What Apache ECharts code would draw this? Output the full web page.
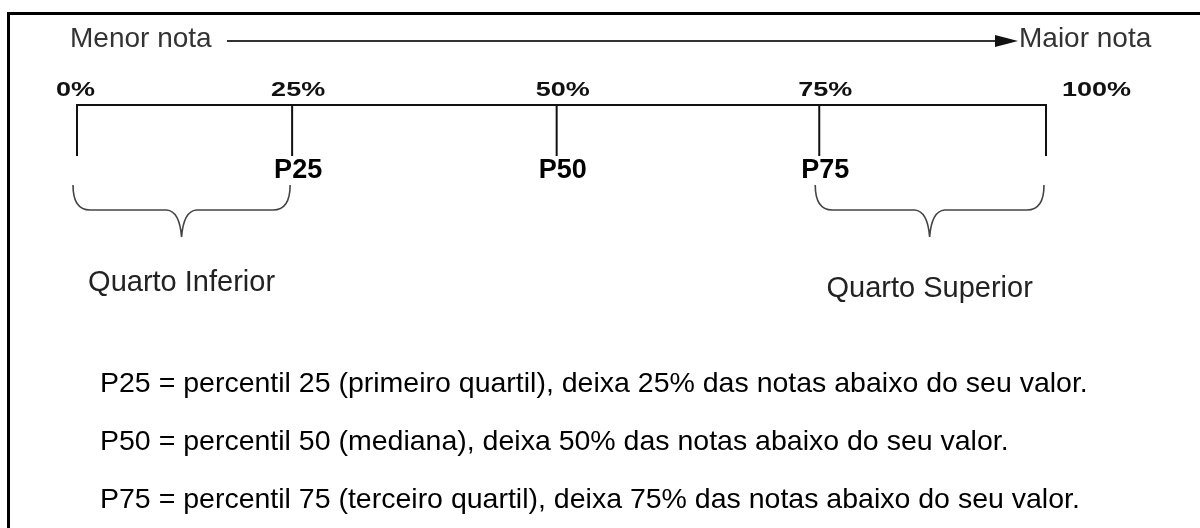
<!DOCTYPE html>
<html>
<head>
<meta charset="utf-8">
<script src="https://cdn.jsdelivr.net/npm/echarts@6/dist/echarts.min.js"></script>
<style>
  html, body { margin: 0; padding: 0; background: #fff; }
  #main { width: 1200px; height: 528px; }
</style>
</head>
<body>
<div id="main"></div>
<script>
// percentis e onde ficam desenhados na escala (0-100)
const percentis = [0, 25, 50, 75, 100];
const escala = [0, 22.2, 49.5, 76.6, 100];
const rotulosPct = ['0%', '25%', '50%', '75%', '100%'];
const rotulosP = ['', 'P25', 'P50', 'P75', ''];

// quartos (inicio/fim em percentil)
const quartos = ['Quarto Inferior', 'Quarto Superior'];
const quartoIni = [0, 75];
const quartoFim = [25, 100];

const extremos = ['Menor nota', 'Maior nota'];
const notas = [
  'P25 = percentil 25 (primeiro quartil), deixa 25% das notas abaixo do seu valor.',
  'P50 = percentil 50 (mediana), deixa 50% das notas abaixo do seu valor.',
  'P75 = percentil 75 (terceiro quartil), deixa 75% das notas abaixo do seu valor.'
];

// layout (px)
const Y_EIXO = 105, Y_TICK = 156, Y_PCT = 90, Y_P = 171;
const Y_CH_TOPO = 185, Y_CH = 210, Y_PONTA = 237;
const Y_QUARTO = [283, 289];
const Y_NOTAS = [384, 442, 500];
const Y_SETA = 41;

function pos(p) {
  return escala[percentis.indexOf(p)];
}

const chart = echarts.init(document.getElementById('main'));

const option = {
  backgroundColor: '#ffffff',
  animation: false,
  grid: { left: 77, right: 154, top: 0, bottom: 0 },
  xAxis: { type: 'value', min: 0, max: 100, show: false },
  yAxis: { type: 'value', min: 0, max: 1, show: false },
  graphic: [
    // moldura
    {
      type: 'rect', silent: true,
      shape: { x: 8.5, y: 13.5, width: 1400, height: 1000 },
      style: { fill: 'none', stroke: '#000', lineWidth: 3 }
    },
    // seta menor -> maior nota
    {
      type: 'line', silent: true,
      shape: { x1: 227, y1: Y_SETA, x2: 998, y2: Y_SETA },
      style: { stroke: '#333', lineWidth: 2 }
    },
    {
      type: 'polygon', silent: true,
      shape: { points: [[995, Y_SETA - 6], [1018, Y_SETA], [995, Y_SETA + 6]] },
      style: { fill: '#111' }
    },
    {
      type: 'text', x: 70, y: 39,
      style: { text: extremos[0], font: '28px "Liberation Sans"', fill: '#333', verticalAlign: 'middle' }
    },
    {
      type: 'text', x: 1019, y: 39,
      style: { text: extremos[1], font: '28px "Liberation Sans"', fill: '#333', verticalAlign: 'middle' }
    }
  ].concat(notas.map(function (t, i) {
    return {
      type: 'text', x: 100, y: Y_NOTAS[i],
      style: { text: t, font: '28.5px "Liberation Sans"', fill: '#000', verticalAlign: 'middle' }
    };
  })),
  series: [
    {
      // linha principal
      type: 'custom',
      silent: true,
      data: [[escala[0], escala[escala.length - 1]]],
      renderItem: function (params, api) {
        const x0 = api.coord([api.value(0), 0])[0];
        const x1 = api.coord([api.value(1), 0])[0];
        return {
          type: 'line',
          shape: { x1: x0 - 1, y1: Y_EIXO, x2: x1 + 1, y2: Y_EIXO },
          style: { stroke: '#111', lineWidth: 2 }
        };
      }
    },
    {
      // marcas dos percentis
      type: 'custom',
      silent: true,
      data: escala.map(function (v, i) { return [v, percentis[i]]; }),
      renderItem: function (params, api) {
        const i = params.dataIndex;
        const x = api.coord([api.value(0), 0])[0];
        const last = i === escala.length - 1;
        const children = [
          {
            type: 'line',
            shape: { x1: x, y1: Y_EIXO, x2: x, y2: Y_TICK },
            style: { stroke: '#111', lineWidth: 2 }
          },
          {
            type: 'text', x: x + (last ? 16 : -21), y: Y_PCT, scaleY: 0.74,
            style: {
              text: rotulosPct[i], x: 0, y: 0,
              font: 'bold 27px "Liberation Sans"', fill: '#111',
              align: 'left', verticalAlign: 'middle'
            }
          }
        ];
        if (rotulosP[i]) {
          children.push({
            type: 'text', x: x - 18, y: Y_P,
            style: {
              text: rotulosP[i], x: 0, y: 0,
              font: 'bold 27px "Liberation Sans"', fill: '#000',
              align: 'left', verticalAlign: 'middle'
            }
          });
        }
        return { type: 'group', children: children };
      }
    },
    {
      // chaves dos quartos
      type: 'custom',
      silent: true,
      data: quartos.map(function (q, i) { return [pos(quartoIni[i]), pos(quartoFim[i])]; }),
      renderItem: function (params, api) {
        const i = params.dataIndex;
        const x0 = api.coord([api.value(0), 0])[0] - 4;
        const x1 = api.coord([api.value(1), 0])[0] - 2;
        const m = (x0 + x1) / 2;
        const d = 'M' + x0 + ',' + Y_CH_TOPO +
          ' Q' + x0 + ',' + Y_CH + ' ' + (x0 + 17) + ',' + Y_CH +
          ' L' + (m - 15) + ',' + Y_CH +
          ' Q' + (m - 2) + ',' + (Y_CH + 1) + ' ' + m + ',' + Y_PONTA +
          ' Q' + (m + 2) + ',' + (Y_CH + 1) + ' ' + (m + 15) + ',' + Y_CH +
          ' L' + (x1 - 17) + ',' + Y_CH +
          ' Q' + x1 + ',' + Y_CH + ' ' + x1 + ',' + Y_CH_TOPO;
        return {
          type: 'group',
          children: [
            {
              type: 'path',
              shape: { pathData: d },
              style: { fill: 'none', stroke: '#444', lineWidth: 1.6 }
            },
            {
              type: 'text', x: m, y: Y_QUARTO[i],
              style: {
                text: quartos[i], font: '29px "Liberation Sans"', fill: '#222',
                align: 'center', verticalAlign: 'middle'
              }
            }
          ]
        };
      }
    }
  ]
};

chart.setOption(option);
</script>
</body>
</html>
